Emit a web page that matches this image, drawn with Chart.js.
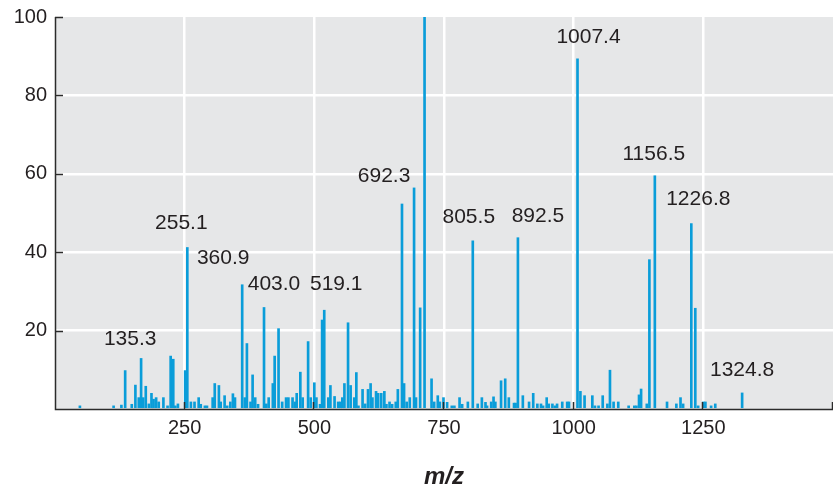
<!DOCTYPE html>
<html>
<head>
<meta charset="utf-8">
<script src="https://cdn.jsdelivr.net/npm/chart.js@4.4.1/dist/chart.umd.min.js"></script>
<style>
  html, body { margin: 0; padding: 0; background: #ffffff; }
  #wrap { width: 833px; height: 488px; }
</style>
</head>
<body>
<div id="wrap"><canvas id="spectrum" width="833" height="488"></canvas></div>
<script>
// Unlabelled peaks: m/z and relative intensity (%)
const mzValues = [48, 113, 128, 148, 155, 161.5, 166, 170, 175, 181, 186, 190, 195, 200, 209, 217, 223, 228, 232, 237,
    251, 262, 269, 277, 281, 289, 293, 304, 308, 316, 319.5, 327, 332, 338, 343, 347, 366, 370, 377, 381,
    386, 391.5, 407.5, 412, 420, 423.5, 431, 438, 445.5, 450, 458, 463, 466, 473, 477.5, 488, 493, 500, 504, 511,
    515, 527, 531, 539, 546, 550, 554, 558, 565, 570, 577, 581, 585, 593, 598, 603.5, 608.5, 612, 619, 623,
    629, 635, 639, 645, 650, 657, 661, 669, 673, 678, 684, 696, 704, 712.5, 726, 731, 738, 742, 749, 756,
    765, 770, 780, 785, 796, 815, 823, 830, 833, 841, 845.5, 849, 860, 868, 875, 885, 888, 902, 914, 922,
    930, 937, 941, 948, 952, 959, 964, 968, 978, 987.5, 991, 1013, 1021, 1036, 1041, 1048, 1056, 1065, 1070, 1077,
    1086, 1106, 1117, 1121, 1126, 1130, 1141, 1146, 1180, 1198, 1206, 1211, 1234.5, 1240, 1250, 1254, 1265, 1273];
const intensities = [0.8, 0.8, 1.0, 1.2, 6.1, 2.9, 12.9, 2.9, 5.8, 1.3, 4.0, 2.5, 2.9, 1.8, 2.9, 0.8, 13.5, 12.7, 0.8, 1.3,
    9.8, 1.8, 1.8, 2.9, 1.2, 0.8, 0.8, 2.9, 6.5, 6.0, 1.8, 3.4, 0.8, 1.8, 3.9, 2.9, 2.9, 16.7, 1.8, 8.7,
    2.9, 1.2, 1.3, 2.9, 6.5, 13.5, 20.5, 1.8, 2.9, 2.9, 2.9, 1.8, 4.0, 9.4, 2.9, 17.2, 2.9, 6.7, 2.9, 1.2,
    22.7, 2.9, 6.0, 3.2, 1.8, 1.8, 2.9, 6.5, 22.0, 6.0, 2.9, 9.3, 0.8, 5.0, 1.3, 5.0, 6.5, 2.9, 4.5, 4.0,
    4.0, 4.5, 1.2, 1.8, 1.2, 1.8, 5.0, 52.3, 6.5, 1.8, 2.9, 2.9, 25.8, 100, 7.7, 1.8, 3.4, 1.8, 2.9, 1.7,
    0.8, 0.8, 2.9, 1.2, 1.8, 1.3, 2.9, 1.7, 0.8, 1.8, 3.1, 1.8, 7.2, 7.7, 2.9, 1.5, 1.5, 3.4, 1.8, 4.0,
    1.3, 1.3, 0.8, 2.9, 1.3, 1.3, 0.8, 1.3, 1.8, 1.8, 1.8, 4.5, 3.4, 3.4, 0.8, 0.8, 3.4, 1.3, 9.9, 1.8,
    1.8, 0.8, 0.8, 0.8, 3.6, 5.1, 1.3, 38.1, 1.8, 1.3, 2.9, 1.3, 25.7, 0.8, 1.8, 1.8, 0.8, 1.3];

// Labelled peaks
const labelledMz = [135.3, 255.1, 360.9, 403.0, 519.1, 692.3, 805.5, 892.5, 1007.4, 1156.5, 1226.8, 1324.8];
const labelledIntensity = [9.8, 41.2, 31.7, 25.9, 25.2, 56.4, 42.9, 43.7, 89.3, 59.5, 47.3, 4.1];

// Axis ticks
const mzTicks = [250, 500, 750, 1000, 1250];
const intensityTicks = [20, 40, 60, 80, 100];

// where each peak label sits relative to the top of its bar (px)
const labelOffsets = [[5, -31], [-6, -24], [-19, -27], [10, -23], [12, -26], [-30, -12],
    [-4, -24], [20, -21], [11, -22], [-1, -22], [7, -24], [0, -23]];

const TEXT = '#231f20';
const FONT = "'Liberation Sans', Arial, Helvetica, sans-serif";

const peaks = mzValues.map((x, i) => ({ x: x, y: intensities[i] }))
    .concat(labelledMz.map((x, i) => ({ x: x, y: labelledIntensity[i] })))
    .sort((a, b) => a.x - b.x);

// grey plot background
const plotBackground = {
    id: 'plotBackground',
    beforeDraw(chart) {
        const { ctx, chartArea: a } = chart;
        ctx.save();
        ctx.fillStyle = '#e6e7e8';
        ctx.fillRect(a.left, a.top, a.right - a.left, a.bottom - a.top);
        ctx.restore();
    }
};

// short tick marks pointing into the plot, plus the two axis lines
const axisMarks = {
    id: 'axisMarks',
    afterDatasetsDraw(chart) {
        const { ctx, chartArea: a, scales } = chart;
        ctx.save();
        ctx.strokeStyle = '#2b2b2b';
        ctx.lineWidth = 1.5;
        ctx.beginPath();
        ctx.moveTo(a.left + 0.5, a.top);
        ctx.lineTo(a.left + 0.5, a.bottom + 0.5);
        ctx.lineTo(a.right, a.bottom + 0.5);
        intensityTicks.forEach(v => {
            const y = Math.round(scales.y.getPixelForValue(v)) + 0.5;
            ctx.moveTo(a.left, y);
            ctx.lineTo(a.left + 8, y);
        });
        mzTicks.concat([1500]).forEach(v => {
            const x = Math.round(scales.x.getPixelForValue(v)) - 0.5;
            ctx.moveTo(x, a.bottom);
            ctx.lineTo(x, a.bottom - 7);
        });
        ctx.stroke();
        ctx.restore();
    }
};

// m/z labels above the main peaks
const peakLabels = {
    id: 'peakLabels',
    afterDatasetsDraw(chart) {
        const { ctx, scales } = chart;
        ctx.save();
        ctx.font = '21px ' + FONT;
        ctx.fillStyle = TEXT;
        ctx.textAlign = 'center';
        ctx.textBaseline = 'middle';
        labelledMz.forEach((mz, i) => {
            const x = scales.x.getPixelForValue(mz);
            const y = scales.y.getPixelForValue(labelledIntensity[i]);
            ctx.fillText(mz.toFixed(1), x + labelOffsets[i][0], y + labelOffsets[i][1]);
        });
        ctx.restore();
    }
};

const hideEnds = (lo, hi) => c => (c.tick.value === lo || c.tick.value === hi) ? 'rgba(0,0,0,0)' : '#ffffff';
const clear = 'rgba(0,0,0,0)';

new Chart('spectrum', {
    type: 'bar',
    data: {
        datasets: [{
            data: peaks,
            backgroundColor: '#0a9dd9',
            borderWidth: 0,
            barThickness: 2
        }]
    },
    options: {
        responsive: false,
        animation: false,
        layout: { padding: { top: 17, right: 0, bottom: 0, left: 0 } },
        plugins: { legend: { display: false }, tooltip: { enabled: false } },
        scales: {
            x: {
                type: 'linear',
                min: 0,
                max: 1500,
                offset: false,
                afterFit: s => { s.height = 79; },
                // invisible tick length keeps the labels clear of the axis
                grid: { offset: false, color: hideEnds(0, 1500), lineWidth: 2.5, drawTicks: true, tickLength: 7, tickColor: clear },
                border: { display: false },
                ticks: {
                    stepSize: 250,
                    autoSkip: false,
                    maxRotation: 0,
                    padding: 0,
                    color: TEXT,
                    font: { family: FONT, size: 20 },
                    callback: v => mzTicks.includes(v) ? String(v) : ''
                },
                title: {
                    display: true,
                    text: 'm/z',
                    color: TEXT,
                    padding: { top: 0, bottom: 0 },
                    font: { family: FONT, size: 24, weight: 'bold', style: 'italic', lineHeight: 0.85 }
                }
            },
            y: {
                min: 0,
                max: 100,
                afterFit: s => { s.width = 55; },
                grid: { color: hideEnds(0, 100), lineWidth: 2.5, drawTicks: true, tickLength: 8, tickColor: clear },
                border: { display: false },
                ticks: {
                    stepSize: 20,
                    padding: 0,
                    color: TEXT,
                    font: { family: FONT, size: 20 },
                    callback: v => intensityTicks.includes(v) ? String(v) : ''
                }
            }
        }
    },
    plugins: [plotBackground, axisMarks, peakLabels]
});
</script>
</body>
</html>
